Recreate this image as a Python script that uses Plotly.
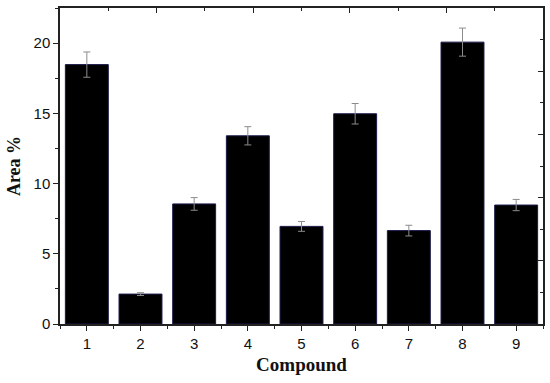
import plotly.graph_objects as go

compounds = [1, 2, 3, 4, 5, 6, 7, 8, 9]
area = [18.47, 2.13, 8.55, 13.4, 6.95, 14.97, 6.65, 20.07, 8.47]
err = [0.9, 0.1, 0.45, 0.65, 0.35, 0.73, 0.38, 1.0, 0.4]
y_ticks = [0, 5, 10, 15, 20]

fig = go.Figure()
fig.add_trace(go.Bar(
    x=compounds, y=area, width=0.8,
    marker=dict(color="black", line=dict(color="#1a1a4a", width=1)),
    error_y=dict(type="data", array=err, visible=True, color="#8c8c8c", thickness=1, width=3.5),
    showlegend=False,
))
# dummy trace for secondary (top/right) axes
fig.add_trace(go.Scatter(x=[None], y=[None], xaxis="x2", yaxis="y2", showlegend=False))

axis_col = "#222222"
tickfont = dict(family="Liberation Sans, Arial, sans-serif", size=15, color="#111111")
titlefont = "Liberation Serif, Times New Roman, serif"
fig.update_layout(
    width=550, height=383,
    margin=dict(l=60, r=7, t=8, b=59, autoexpand=False),
    plot_bgcolor="white", paper_bgcolor="white",
    xaxis=dict(
        range=[0.5, 9.5], tickmode="array", tickvals=compounds, ticktext=[str(c) for c in compounds],
        ticks="outside", ticklen=5, tickwidth=1.2, tickcolor=axis_col,
        minor=dict(dtick=0.5, tick0=0.5, ticks="outside", ticklen=3, tickcolor=axis_col, tickwidth=1),
        showline=True, linecolor=axis_col, linewidth=1.5, showgrid=False, zeroline=False,
        tickfont=tickfont, automargin=False,
        title=dict(text="<b>Compound</b>", font=dict(family=titlefont, size=19, color="#111"), standoff=7),
    ),
    yaxis=dict(
        range=[0, 22.5], tickmode="array", tickvals=y_ticks,
        ticks="outside", ticklen=5, tickwidth=1.2, tickcolor=axis_col,
        minor=dict(dtick=2.5, tick0=0, ticks="outside", ticklen=3, tickcolor=axis_col, tickwidth=1),
        showline=True, linecolor=axis_col, linewidth=1.5, showgrid=False, zeroline=False,
        tickfont=tickfont, automargin=False,
        title=dict(text="<b>Area %</b>", font=dict(family=titlefont, size=18, color="#111"), standoff=8),
    ),
    xaxis2=dict(
        overlaying="x", side="top", range=[0, 10], tickmode="array", tickvals=[2, 4, 6, 8],
        showticklabels=False, ticks="inside", ticklen=5, tickwidth=1.2, tickcolor=axis_col,
        minor=dict(tickmode="array", tickvals=[1, 3, 5, 7, 9], ticks="inside", ticklen=3, tickcolor=axis_col, tickwidth=1),
        showline=True, linecolor=axis_col, linewidth=1.5, showgrid=False, zeroline=False, automargin=False,
    ),
    yaxis2=dict(
        overlaying="y", side="right", range=[0, 10], tickmode="array", tickvals=[2, 4, 6, 8],
        showticklabels=False, ticks="inside", ticklen=5, tickwidth=1.2, tickcolor=axis_col,
        minor=dict(tickmode="array", tickvals=[1, 3, 5, 7, 9], ticks="inside", ticklen=3, tickcolor=axis_col, tickwidth=1),
        showline=True, linecolor=axis_col, linewidth=1.5, showgrid=False, zeroline=False, automargin=False,
    ),
)

fig.write_html("out.html", config={"displayModeBar": False},
               post_script="document.body.style.margin='0';")
